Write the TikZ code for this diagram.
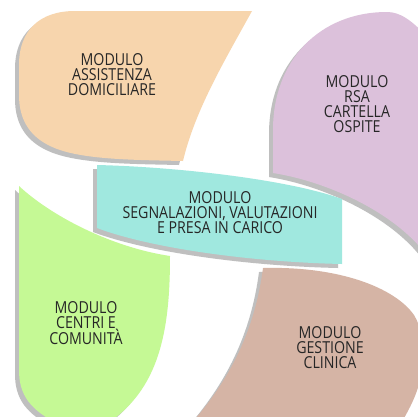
\documentclass[tikz,border=0pt]{standalone}
\usepackage{fontspec}
\setmainfont{Open Sans}[FakeStretch=0.86]
\definecolor{orangec}{HTML}{F7D5AD}
\definecolor{purplec}{HTML}{DCC1DB}
\definecolor{tealc}{HTML}{A0E8DF}
\definecolor{greenc}{HTML}{C5F995}
\definecolor{brownc}{HTML}{D5B4A5}
\definecolor{shadowc}{HTML}{BFBFBF}
\definecolor{textc}{HTML}{262626}
\tikzset{
  blob/.style={fill=#1, preaction={fill=shadowc, transform canvas={shift={(-4pt,-4pt)}}}},
  lbl/.style={align=center, text=textc, inner sep=0pt, font=\fontsize{16.5}{15}\selectfont}
}
\begin{document}
\begin{tikzpicture}[x=1pt,y=-1pt]
\clip (0,0) rectangle (418,416);
\fill[white] (0,0) rectangle (418,416);
% orange
\fill[blob=orangec] (75,11) -- (252,11) .. controls (225,60) and (195,110) .. (183,161)
  .. controls (140,160) and (90,160) .. (60,150) .. controls (30,140) and (19,120) .. (19,95)
  -- (19,65) .. controls (19,30) and (40,11) .. (75,11) -- cycle;
% purple
\fill[blob=purplec] (273,173) -- (273,130) .. controls (273,60) and (320,12) .. (387,12)
  .. controls (400,12) and (412,20) .. (430,40) -- (430,260)
  .. controls (400,215) and (330,182) .. (273,173) -- cycle;
% teal
\fill[blob=tealc] (97,165) .. controls (180,167) and (290,180) .. (342,199) -- (342,264)
  .. controls (250,262) and (150,248) .. (97,228) -- cycle;
% green
\fill[blob=greenc] (19,186) .. controls (50,215) and (110,247) .. (170,256)
  .. controls (170,330) and (160,390) .. (105,425) -- (60,425)
  .. controls (30,410) and (19,395) .. (19,370) -- cycle;
% brown
\fill[blob=brownc] (263,268) .. controls (340,266) and (395,288) .. (414,315)
  .. controls (422,328) and (424,345) .. (423,360) .. controls (422,385) and (412,405) .. (400,425)
  -- (190,425) .. controls (230,380) and (255,330) .. (263,268) -- cycle;
% labels
\node[lbl] (t1) at (112,75) {MODULO\\ASSISTENZA\\DOMICILIARE};
\node[lbl] (t2) at (357,104) {MODULO\\RSA\\CARTELLA\\OSPITE};
\node[lbl] (t3) at (220,213) {MODULO\\SEGNALAZIONI, VALUTAZIONI\\E PRESA IN CARICO};
\node[lbl] (t4) at (86,323) {MODULO\\CENTRI E\\COMUNITÀ};
\node[lbl] (t5) at (330,348) {MODULO\\GESTIONE\\CLINICA};
\end{tikzpicture}
\end{document}
